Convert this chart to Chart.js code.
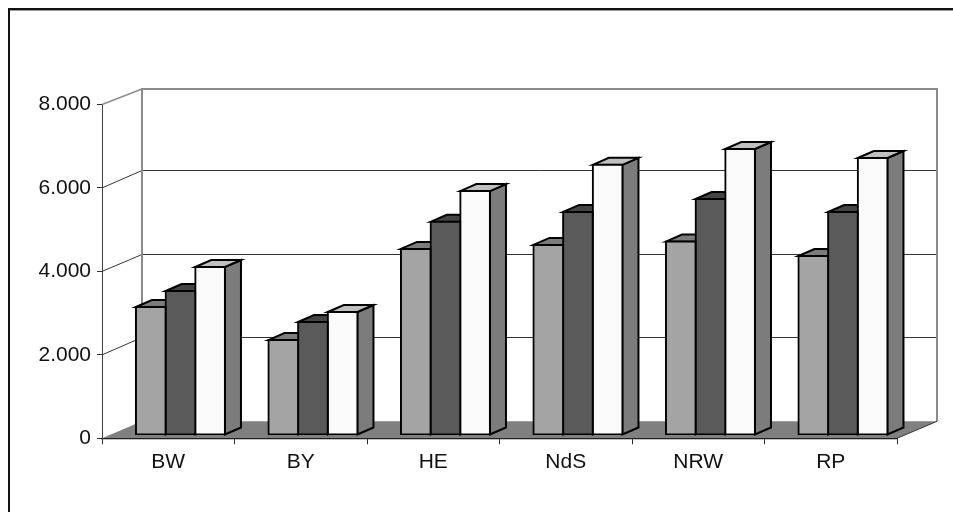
<!DOCTYPE html>
<html>
<head>
<meta charset="utf-8">
<style>
  html, body { margin: 0; padding: 0; background: #fff; overflow: hidden; }
  #wrap { position: relative; width: 953px; height: 512px; overflow: hidden; }
  #frame { position: absolute; left: 8px; top: 8px; width: 960px; height: 520px; border: 2px solid #111; box-shadow: inset 0 1px 0 #999; }
  canvas { position: absolute; left: 0; top: 0; }
</style>
<script src="https://cdn.jsdelivr.net/npm/chart.js@4/dist/chart.umd.min.js"></script>
</head>
<body>
<div id="wrap">
  <div id="frame"></div>
  <canvas id="chart" width="953" height="512"></canvas>
</div>
<script>
const categories = ['BW', 'BY', 'HE', 'NdS', 'NRW', 'RP'];
const lightValues = [3068, 2275, 4460, 4555, 4635, 4290];
const darkValues = [3452, 2708, 5108, 5347, 5656, 5344];
const whiteValues = [4026, 2948, 5846, 6474, 6854, 6639];
const tickValues = [0, 2000, 4000, 6000, 8000];
const tickLabels = ['0', '2.000', '4.000', '6.000', '8.000'];

const depthX = 40, depthY = 17;   // wall offset
const barDepthX = 16, barDepthY = 7;
const barShiftX = 12.2, barShiftY = -3.3;

const faces = [
  { top: '#7c7c7c', side: '#7c7c7c' },
  { top: '#444444', side: '#444444' },
  { top: '#c0c0c0', side: '#7c7c7c' },
];

const poly = (ctx, pts, fill, stroke, lw) => {
  ctx.beginPath();
  pts.forEach((p, i) => (i ? ctx.lineTo(p[0], p[1]) : ctx.moveTo(p[0], p[1])));
  ctx.closePath();
  if (fill) { ctx.fillStyle = fill; ctx.fill(); }
  if (stroke) { ctx.strokeStyle = stroke; ctx.lineWidth = lw; ctx.stroke(); }
};

const box3d = {
  id: 'box3d',
  beforeDatasetsDraw(chart) {
    const { ctx, chartArea: a, scales: { y } } = chart;
    const bottom = y.getPixelForValue(0);
    const wallTop = y.getPixelForValue(8000) - depthY + 1.5;
    ctx.save();

    // floor
    poly(ctx, [[a.left, bottom], [a.left + depthX, bottom - depthY], [a.right + depthX, bottom - depthY], [a.right, bottom]], '#808080');

    // grid lines running round the side wall and along the back
    tickValues.slice(1, -1).forEach((v) => {
      const py = y.getPixelForValue(v);
      const back = Math.floor(py - depthY) + 0.5;
      ctx.beginPath();
      ctx.moveTo(a.left, py);
      ctx.lineTo(a.left + depthX, back);
      ctx.lineTo(a.right + depthX, back);
      ctx.strokeStyle = '#333333';
      ctx.lineWidth = 1;
      ctx.stroke();
    });

    // back wall edges, top line included
    ctx.strokeStyle = '#8c8c8c';
    ctx.lineWidth = 2;
    ctx.beginPath();
    ctx.moveTo(a.left + depthX, bottom - depthY);
    ctx.lineTo(a.left + depthX, wallTop);
    ctx.lineTo(a.right + depthX, wallTop);
    ctx.lineTo(a.right + depthX, bottom - depthY);
    ctx.stroke();
    ctx.lineWidth = 1.4;
    ctx.beginPath();
    ctx.moveTo(a.left, y.getPixelForValue(8000));
    ctx.lineTo(a.left + depthX, wallTop);
    ctx.stroke();

    ctx.strokeStyle = '#333';
    ctx.lineWidth = 1;
    ctx.beginPath();
    ctx.moveTo(a.right, bottom);
    ctx.lineTo(a.right + depthX, bottom - depthY);
    ctx.stroke();

    // top and side faces of the bars, then shift for the fronts
    ctx.restore();
    ctx.save();
    ctx.translate(barShiftX, barShiftY);
    ctx.lineJoin = 'miter';
    chart.data.datasets.forEach((ds, i) => {
      chart.getDatasetMeta(i).data.forEach((bar) => {
        const { x, y: by, base, width } = bar.getProps(['x', 'y', 'base', 'width'], true);
        const l = x - width / 2, r = x + width / 2;
        poly(ctx, [[r, by], [r + barDepthX, by - barDepthY], [r + barDepthX, base - barDepthY], [r, base]], faces[i].side, '#000', 2);
        poly(ctx, [[l, by], [l + barDepthX, by - barDepthY], [r + barDepthX, by - barDepthY], [r, by]], faces[i].top, '#000', 2);
      });
    });
    ctx.restore();
    ctx.save();
    ctx.translate(barShiftX, barShiftY);
  },
  afterDatasetsDraw(chart) {
    chart.ctx.restore();
  },
};

const barStyle = {
  borderColor: '#000',
  borderWidth: 2,
  borderSkipped: false,
  inflateAmount: 1,
  categoryPercentage: 0.672,
  barPercentage: 1,
};

new Chart(document.getElementById('chart'), {
  type: 'bar',
  data: {
    labels: categories,
    datasets: [
      { data: lightValues, backgroundColor: '#a4a4a4', ...barStyle },
      { data: darkValues, backgroundColor: '#5a5a5a', ...barStyle },
      { data: whiteValues, backgroundColor: '#fafafa', ...barStyle },
    ],
  },
  options: {
    responsive: false,
    animation: false,
    layout: { autoPadding: false, padding: { left: 0, right: 56, top: 104.5, bottom: 23.7 } },
    plugins: { legend: { display: false }, title: { display: false }, tooltip: { enabled: false } },
    scales: {
      x: {
        offset: true,
        afterFit: (s) => { s.height = 50; },
        border: { color: '#000', width: 1.2 },
        grid: { offset: true, drawOnChartArea: false, color: '#333', tickLength: 6 },
        ticks: { color: '#111', padding: 5, maxRotation: 0, font: { family: 'Liberation Sans', size: 21 } },
      },
      y: {
        min: 0,
        max: 8000,
        afterFit: (s) => { s.width = 102; },
        afterBuildTicks: (s) => { s.ticks = tickValues.map((value) => ({ value })); },
        border: { color: '#404040', width: 1 },
        grid: { drawOnChartArea: false, color: '#333', tickLength: 5 },
        ticks: {
          color: '#111',
          padding: 6,
          font: { family: 'Liberation Sans', size: 21 },
          callback: (v) => tickLabels[tickValues.indexOf(v)],
        },
      },
    },
  },
  plugins: [box3d],
});
</script>
</body>
</html>
